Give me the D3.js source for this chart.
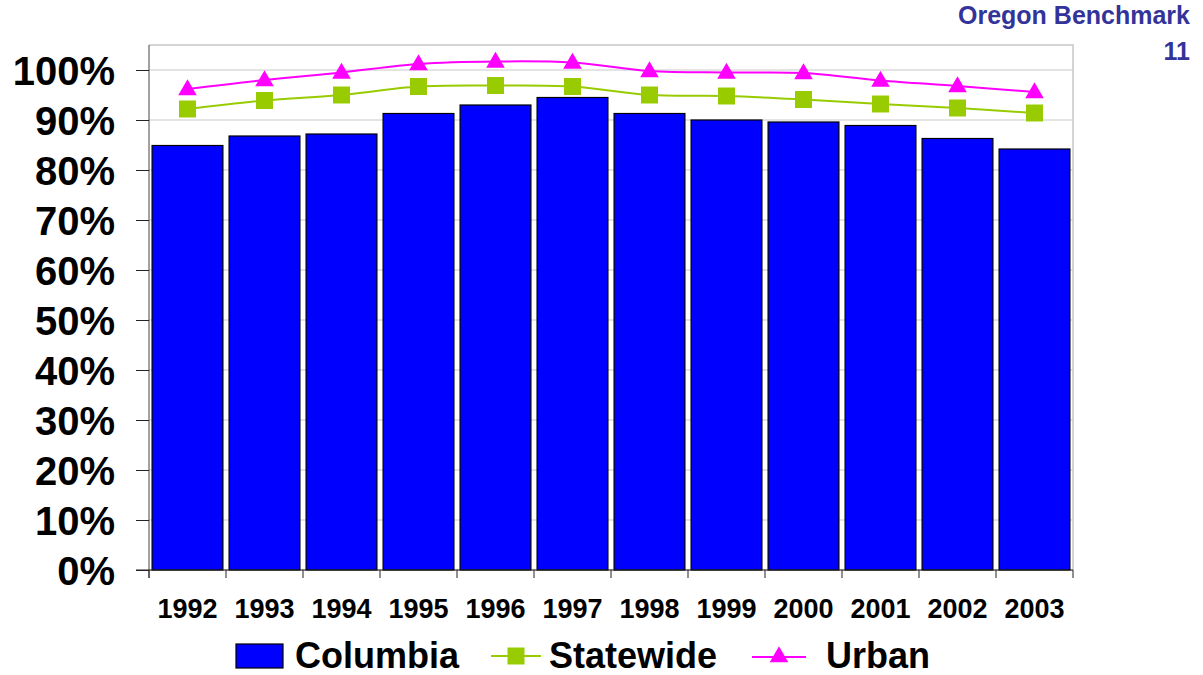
<!DOCTYPE html>
<html>
<head>
<meta charset="utf-8">
<script src="https://cdn.jsdelivr.net/npm/d3@7"></script>
<style>
  body { margin: 0; background: #fff; }
  text { font-family: "Liberation Sans", Arial, sans-serif; font-weight: bold; }
</style>
</head>
<body>
<svg id="chart" width="1203" height="675"></svg>
<script>
// data
const years = ["1992", "1993", "1994", "1995", "1996", "1997", "1998", "1999", "2000", "2001", "2002", "2003"];
const columbia = [84.9, 86.8, 87.2, 91.3, 93.0, 94.5, 91.3, 90.0, 89.6, 88.9, 86.3, 84.2];
const statewide = [92.2, 93.9, 95.0, 96.7, 96.9, 96.7, 95.0, 94.8, 94.1, 93.2, 92.4, 91.4];
const urban = [96.2, 98.0, 99.5, 101.2, 101.7, 101.5, 99.8, 99.5, 99.4, 97.9, 96.8, 95.6];
const yTicks = [0, 10, 20, 30, 40, 50, 60, 70, 80, 90, 100];

const svg = d3.select("#chart");
const plotL = 149, plotT = 45, plotR = 1073, plotB = 570;

const x = d3.scaleBand().domain(years).range([plotL, plotR])
    .paddingInner(0.08).paddingOuter(0.04);
const y = d3.scaleLinear().domain([0, 105]).range([plotB, plotT]);

// title
svg.append("text").attr("x", 1190).attr("y", 24).attr("text-anchor", "end")
    .style("font-size", "25px").style("fill", "#333399").text("Oregon Benchmark");
svg.append("text").attr("x", 1190).attr("y", 60).attr("text-anchor", "end")
    .style("font-size", "25px").style("fill", "#333399").text("11");

// gridlines
svg.append("g").selectAll("line").data(yTicks).join("line")
    .attr("x1", plotL).attr("x2", plotR)
    .attr("y1", d => y(d)).attr("y2", d => y(d))
    .attr("stroke", "#c8c8c8").attr("stroke-width", 1);

// plot border (top & right)
svg.append("path")
    .attr("d", `M${plotL},${plotT}H${plotR}V${plotB}`)
    .attr("fill", "none").attr("stroke", "#c8c8c8").attr("stroke-width", 1.5);

// bars
svg.append("g").selectAll("rect").data(columbia).join("rect")
    .attr("x", (d, i) => x(years[i]))
    .attr("y", d => y(d))
    .attr("width", x.bandwidth())
    .attr("height", d => y(0) - y(d))
    .attr("fill", "#0000ff").attr("stroke", "#000").attr("stroke-width", 1.2);

// y axis
const yAxis = svg.append("g").attr("transform", `translate(${plotL},0)`)
    .call(d3.axisLeft(y).tickValues(yTicks).tickSize(13).tickPadding(21).tickFormat(d => d + "%"));
yAxis.select(".domain").attr("stroke", "#444").attr("d", `M0,${plotT}V${plotB + 8}`);
yAxis.selectAll(".tick line").attr("stroke", "#222");
yAxis.selectAll("text").style("font-size", "40px").attr("fill", "#000").attr("dy", "0.36em");

// x axis
const half = x.step() * x.paddingInner() / 2;
const bounds = years.map(d => x(d) - half).concat([plotR]);
svg.append("line").attr("x1", plotL - 13).attr("x2", plotR).attr("y1", plotB).attr("y2", plotB)
    .attr("stroke", "#222");
svg.append("g").selectAll("line").data(bounds).join("line")
    .attr("x1", d => d).attr("x2", d => d)
    .attr("y1", plotB).attr("y2", plotB + 8).attr("stroke", "#222");
svg.append("g").selectAll("text").data(years).join("text")
    .attr("x", d => x(d) + x.bandwidth() / 2).attr("y", 618)
    .attr("text-anchor", "middle").style("font-size", "27px").text(d => d);

// lines
const cx = i => x(years[i]) + x.bandwidth() / 2;
const line = d3.line().x((d, i) => cx(i)).y(d => y(d)).curve(d3.curveCatmullRom);

svg.append("path").datum(statewide).attr("d", line)
    .attr("fill", "none").attr("stroke", "#99cc00").attr("stroke-width", 2);
svg.append("path").datum(urban).attr("d", line)
    .attr("fill", "none").attr("stroke", "#ff00ff").attr("stroke-width", 2);

const sq = d3.symbol().type(d3.symbolSquare).size(17 * 17);
const tri = d3.symbol().type(d3.symbolTriangle).size(150);

svg.append("g").selectAll("path").data(statewide).join("path")
    .attr("d", sq).attr("transform", (d, i) => `translate(${cx(i)},${y(d)})`)
    .attr("fill", "#99cc00");
svg.append("g").selectAll("path").data(urban).join("path")
    .attr("d", tri).attr("transform", (d, i) => `translate(${cx(i)},${y(d) + 1})`)
    .attr("fill", "#ff00ff");

// legend
const leg = svg.append("g");
leg.append("rect").attr("x", 236).attr("y", 644).attr("width", 47).attr("height", 24)
    .attr("fill", "#0000ff").attr("stroke", "#000").attr("stroke-width", 1.2);
leg.append("text").attr("x", 295).attr("y", 668).style("font-size", "36px").text("Columbia");

leg.append("line").attr("x1", 491).attr("x2", 541).attr("y1", 656).attr("y2", 656)
    .attr("stroke", "#99cc00").attr("stroke-width", 2);
leg.append("path").attr("d", sq).attr("transform", "translate(516,656)").attr("fill", "#99cc00");
leg.append("text").attr("x", 549).attr("y", 668).style("font-size", "36px").text("Statewide");

leg.append("line").attr("x1", 752).attr("x2", 806).attr("y1", 657).attr("y2", 657)
    .attr("stroke", "#ff00ff").attr("stroke-width", 2);
leg.append("path").attr("d", tri).attr("transform", "translate(779,657)").attr("fill", "#ff00ff");
leg.append("text").attr("x", 826).attr("y", 668).style("font-size", "36px").text("Urban");
</script>
</body>
</html>
